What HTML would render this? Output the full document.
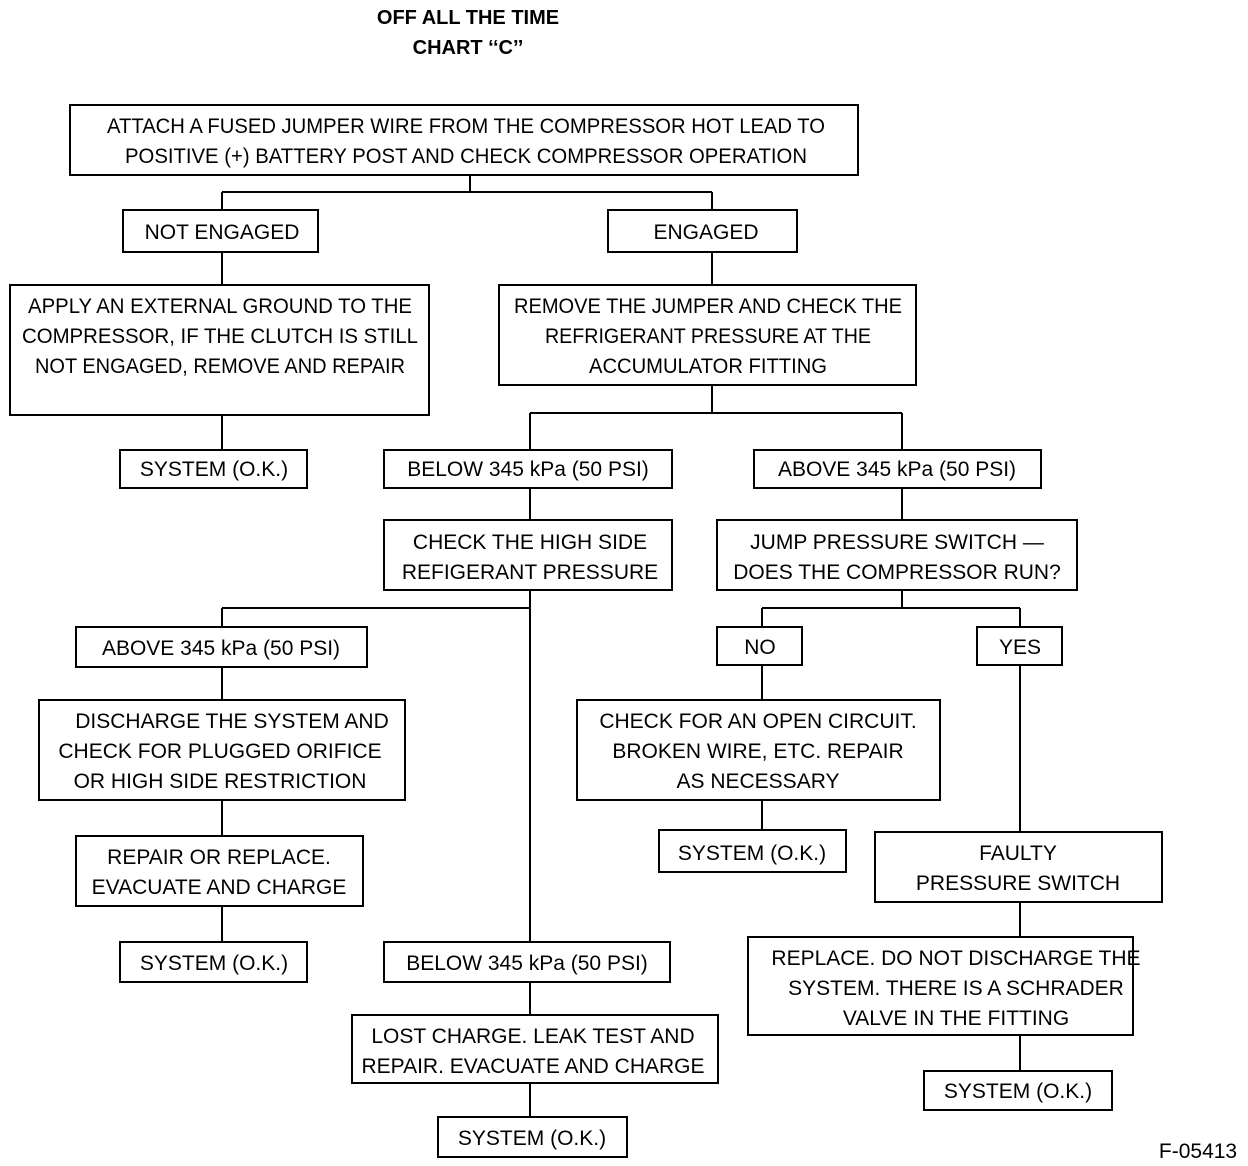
<!DOCTYPE html>
<html><head><meta charset="utf-8"><style>
html,body{margin:0;padding:0;background:#fff;}
svg{display:block;}
text{font-family:"Liberation Sans Narrow","Liberation Sans",sans-serif;font-size:21px;fill:#000;text-anchor:middle;}
</style></head><body>
<svg width="1248" height="1166" viewBox="0 0 1248 1166" xmlns="http://www.w3.org/2000/svg">
<g fill="none" stroke="#000" stroke-width="2">
<rect x="70" y="105" width="788" height="70"/>
<rect x="123" y="210" width="195" height="42"/>
<rect x="608" y="210" width="189" height="42"/>
<rect x="10" y="285" width="419" height="130"/>
<rect x="499" y="285" width="417" height="100"/>
<rect x="120" y="450" width="187" height="38"/>
<rect x="384" y="450" width="288" height="38"/>
<rect x="754" y="450" width="287" height="38"/>
<rect x="384" y="520" width="288" height="70"/>
<rect x="717" y="520" width="360" height="70"/>
<rect x="76" y="627" width="291" height="40"/>
<rect x="39" y="700" width="366" height="100"/>
<rect x="76" y="836" width="287" height="70"/>
<rect x="120" y="942" width="187" height="40"/>
<rect x="384" y="942" width="286" height="40"/>
<rect x="352" y="1015" width="366" height="68"/>
<rect x="438" y="1117" width="189" height="40"/>
<rect x="717" y="627" width="85" height="38"/>
<rect x="977" y="627" width="85" height="38"/>
<rect x="577" y="700" width="363" height="100"/>
<rect x="659" y="830" width="187" height="42"/>
<rect x="875" y="832" width="287" height="70"/>
<rect x="748" y="937" width="385" height="98"/>
<rect x="924" y="1071" width="188" height="39"/>
<path d="M470 175V192M222 192H712M222 192V210M712 192V210"/>
<path d="M222 252V285M712 252V285M222 415V450"/>
<path d="M712 385V413M530 413H902M530 413V450M902 413V450"/>
<path d="M530 488V520M902 488V520"/>
<path d="M530 590V942M222 608H530M222 608V627"/>
<path d="M222 667V700M222 800V836M222 906V942M530 982V1015M530 1083V1117"/>
<path d="M902 590V608M762 608H1020M762 608V627M1020 608V627"/>
<path d="M762 665V700M762 800V830M1020 665V832M1020 902V937M1020 1035V1071"/>
</g>
<text x="468" y="24" style="font-weight:bold;font-size:20px">OFF ALL THE TIME</text>
<text x="468" y="54" style="font-weight:bold;font-size:20px">CHART ‘‘C’’</text>
<text x="466" y="133" textLength="718" lengthAdjust="spacingAndGlyphs">ATTACH A FUSED JUMPER WIRE FROM THE COMPRESSOR HOT LEAD TO</text>
<text x="466" y="163" textLength="682" lengthAdjust="spacingAndGlyphs">POSITIVE (+) BATTERY POST AND CHECK COMPRESSOR OPERATION</text>
<text x="222" y="239">NOT ENGAGED</text>
<text x="706" y="239">ENGAGED</text>
<text x="220" y="313" textLength="384" lengthAdjust="spacingAndGlyphs">APPLY AN EXTERNAL GROUND TO THE</text>
<text x="220" y="343" textLength="396" lengthAdjust="spacingAndGlyphs">COMPRESSOR, IF THE CLUTCH IS STILL</text>
<text x="220" y="373" textLength="370" lengthAdjust="spacingAndGlyphs">NOT ENGAGED, REMOVE AND REPAIR</text>
<text x="708" y="313" textLength="388" lengthAdjust="spacingAndGlyphs">REMOVE THE JUMPER AND CHECK THE</text>
<text x="708" y="343" textLength="326" lengthAdjust="spacingAndGlyphs">REFRIGERANT PRESSURE AT THE</text>
<text x="708" y="373" textLength="238" lengthAdjust="spacingAndGlyphs">ACCUMULATOR FITTING</text>
<text x="214" y="476">SYSTEM (O.K.)</text>
<text x="528" y="476">BELOW 345 kPa (50 PSI)</text>
<text x="897" y="476">ABOVE 345 kPa (50 PSI)</text>
<text x="530" y="549">CHECK THE HIGH SIDE</text>
<text x="530" y="579">REFIGERANT PRESSURE</text>
<text x="897" y="549">JUMP PRESSURE SWITCH —</text>
<text x="897" y="579">DOES THE COMPRESSOR RUN?</text>
<text x="221" y="655">ABOVE 345 kPa (50 PSI)</text>
<text x="232" y="728">DISCHARGE THE SYSTEM AND</text>
<text x="220" y="758">CHECK FOR PLUGGED ORIFICE</text>
<text x="220" y="788">OR HIGH SIDE RESTRICTION</text>
<text x="219" y="864">REPAIR OR REPLACE.</text>
<text x="219" y="894">EVACUATE AND CHARGE</text>
<text x="214" y="970">SYSTEM (O.K.)</text>
<text x="527" y="970">BELOW 345 kPa (50 PSI)</text>
<text x="533" y="1043">LOST CHARGE. LEAK TEST AND</text>
<text x="533" y="1073">REPAIR. EVACUATE AND CHARGE</text>
<text x="532" y="1145">SYSTEM (O.K.)</text>
<text x="760" y="654">NO</text>
<text x="1020" y="654">YES</text>
<text x="758" y="728">CHECK FOR AN OPEN CIRCUIT.</text>
<text x="758" y="758">BROKEN WIRE, ETC. REPAIR</text>
<text x="758" y="788">AS NECESSARY</text>
<text x="752" y="860">SYSTEM (O.K.)</text>
<text x="1018" y="860">FAULTY</text>
<text x="1018" y="890">PRESSURE SWITCH</text>
<text x="956" y="965">REPLACE.   DO NOT DISCHARGE THE</text>
<text x="956" y="995">SYSTEM. THERE IS A SCHRADER</text>
<text x="956" y="1025">VALVE IN THE FITTING</text>
<text x="1018" y="1098">SYSTEM (O.K.)</text>
<text x="1198" y="1158">F-05413</text>
</svg>
</body></html>
